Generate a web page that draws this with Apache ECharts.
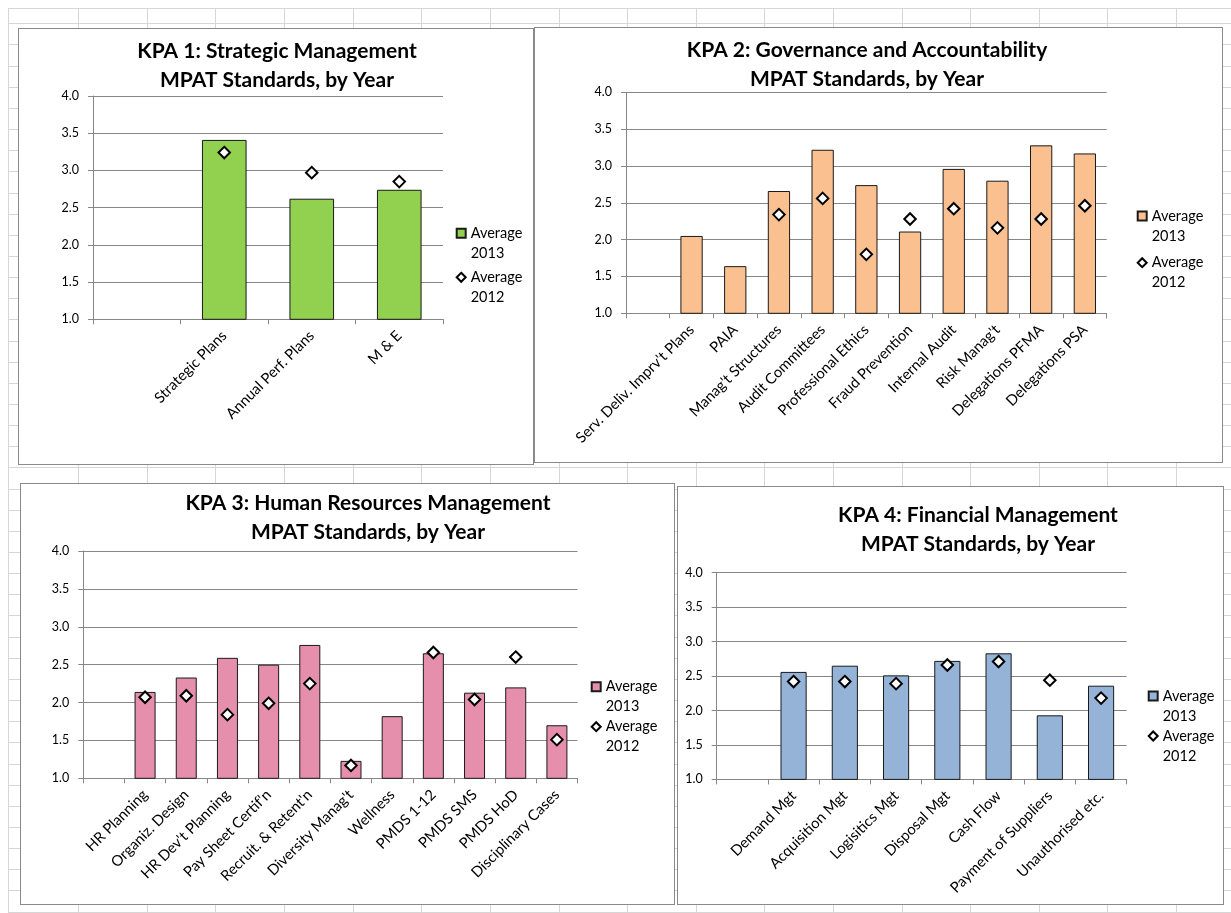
<!DOCTYPE html>
<html>
<head>
<meta charset="utf-8">
<script src="https://cdn.jsdelivr.net/npm/echarts@6/dist/echarts.min.js"></script>
<style>
html, body { margin: 0; padding: 0; background: #fff; }
#sheet { position: relative; width: 1231px; height: 913px; overflow: hidden; background: #fff; }
.hl { position: absolute; left: 8px; right: 0; height: 1px; background: #d6d6d6; }
.vl { position: absolute; top: 8px; bottom: 0; width: 1px; background: #d6d6d6; }
.panel { position: absolute; background: #fff; outline: 1px solid #8a8a8a; outline-offset: -1px; }
</style>
</head>
<body>
<div id="sheet">
  <div class="panel" id="p1" style="left:18px;top:28px;width:516px;height:437px"></div>
  <div class="panel" id="p2" style="left:534px;top:27px;width:689px;height:436px"></div>
  <div class="panel" id="p3" style="left:20px;top:483px;width:655px;height:422px"></div>
  <div class="panel" id="p4" style="left:677px;top:486px;width:547px;height:419px"></div>
</div>
<script>
// ---------------- DATA ----------------
const seriesNames = ['Average 2013', 'Average 2012'];
const yAxisMin = 1.0;
const yAxisMax = 4.0;
const yAxisStep = 0.5;

const kpa1Title = 'KPA 1: Strategic Management\nMPAT Standards, by Year';
const kpa1Categories = ['', 'Strategic Plans', 'Annual Perf. Plans', 'M & E'];
const kpa1Avg2013 = [null, 3.41, 2.62, 2.74];
const kpa1Avg2012 = [null, 3.24, 2.97, 2.85];

const kpa2Title = 'KPA 2: Governance and Accountability\nMPAT Standards, by Year';
const kpa2Categories = ['', "Serv. Deliv. Imprv't Plans", 'PAIA', "Manag't Structures", 'Audit Committees',
  'Professional Ethics', 'Fraud Prevention', 'Internal Audit', "Risk Manag't", 'Delegations PFMA', 'Delegations PSA'];
const kpa2Avg2013 = [null, 2.05, 1.64, 2.66, 3.22, 2.74, 2.11, 2.96, 2.80, 3.28, 3.17];
const kpa2Avg2012 = [null, null, null, 2.34, 2.56, 1.80, 2.28, 2.42, 2.16, 2.28, 2.46];

const kpa3Title = 'KPA 3: Human Resources Management\nMPAT Standards, by Year';
const kpa3Categories = ['', 'HR Planning', 'Organiz. Design', "HR Dev't Planning", "Pay Sheet Certif'n",
  "Recruit. & Retent'n", "Diversity Manag't", 'Wellness', 'PMDS 1-12', 'PMDS SMS', 'PMDS HoD', 'Disciplinary Cases'];
const kpa3Avg2013 = [null, 2.14, 2.33, 2.59, 2.50, 2.76, 1.23, 1.82, 2.65, 2.13, 2.20, 1.70];
const kpa3Avg2012 = [null, 2.07, 2.09, 1.84, 1.99, 2.25, 1.17, null, 2.66, 2.04, 2.60, 1.51];

const kpa4Title = 'KPA 4: Financial Management\nMPAT Standards, by Year';
const kpa4Categories = ['', 'Demand Mgt', 'Acquisition Mgt', 'Logisitics Mgt', 'Disposal Mgt', 'Cash Flow',
  'Payment of Suppliers', 'Unauthorised etc.'];
const kpa4Avg2013 = [null, 2.56, 2.65, 2.51, 2.72, 2.83, 1.93, 2.36];
const kpa4Avg2012 = [null, 2.42, 2.42, 2.39, 2.66, 2.71, 2.44, 2.18];

// ---------------- SPREADSHEET BACKGROUND ----------------
(function () {
  const sheet = document.getElementById('sheet');
  const first = sheet.firstChild;
  function add(cls, prop, v) {
    const d = document.createElement('div');
    d.className = cls; d.style[prop] = v + 'px';
    sheet.insertBefore(d, first);
  }
  add('hl', 'top', 8);
  for (let y = 23.3; y < 913; y += 21.15) add('hl', 'top', Math.round(y));
  add('vl', 'left', 8);
  for (let x = 78.3; x < 1231; x += 68.6) add('vl', 'left', Math.round(x));
})();

// ---------------- CHARTS ----------------
const FONT = 'Lato, "Open Sans", sans-serif';
const AXIS_GRAY = '#868686';
// legend icons: visible mark at the top of a taller box so it lines up with the first text line
const ICON_BOX = 'path://M0,0L9,0L9,9L0,9Z M0,29';
const ICON_DIAMOND = 'path://M4.5,0L9,4.5L4.5,9L0,4.5Z M0,29';

function buildOption(c) {
  const legendText = { fontFamily: FONT, fontSize: 14.5, color: '#000', lineHeight: 20 };
  const legendCommon = {
    left: c.legX, padding: 0, itemWidth: 9, itemHeight: 29, textStyle: legendText,
    selectedMode: false, formatter: n => n.replace(' ', '\n')
  };
  return {
    animation: false,
    title: {
      text: c.title, left: c.titleX, top: c.titleY, padding: 0, textAlign: 'center',
      textStyle: { fontFamily: FONT, fontWeight: 'bold', fontSize: 21, lineHeight: 29, color: '#000' }
    },
    grid: { left: c.grid[0], top: c.grid[1], width: c.grid[2], height: c.grid[3] },
    legend: [
      Object.assign({ data: [{ name: seriesNames[0], icon: ICON_BOX }], top: c.legY1 - 10 }, legendCommon),
      Object.assign({ data: [{ name: seriesNames[1], icon: ICON_DIAMOND }], top: c.legY2 - 10 }, legendCommon)
    ],
    xAxis: {
      type: 'category', data: c.categories,
      axisLine: { lineStyle: { color: AXIS_GRAY, width: 1 } },
      axisTick: { show: true, length: 5, lineStyle: { color: AXIS_GRAY } },
      axisLabel: { interval: 0, rotate: 45, margin: 14, fontFamily: FONT, fontSize: 14.8, color: '#000', hideOverlap: false },
      splitLine: { show: false }
    },
    yAxis: {
      type: 'value', min: yAxisMin, max: yAxisMax, interval: yAxisStep,
      axisLine: { show: true, lineStyle: { color: AXIS_GRAY, width: 1 } },
      axisTick: { show: true, length: 5, lineStyle: { color: AXIS_GRAY } },
      axisLabel: { margin: 14, fontFamily: FONT, fontSize: 12.5, color: '#000', formatter: v => v.toFixed(1) },
      splitLine: { show: true, lineStyle: { color: AXIS_GRAY, width: 1 } }
    },
    series: [
      {
        type: 'bar', name: seriesNames[0], data: c.v2013, barWidth: '51%',
        itemStyle: { color: c.color, borderColor: '#1a1a1a', borderWidth: 1 }
      },
      {
        type: 'scatter', name: seriesNames[1], data: c.v2012, symbol: 'diamond', symbolSize: 11.5,
        itemStyle: { color: '#fff', borderColor: '#000', borderWidth: 2, opacity: 1 }, z: 5
      }
    ]
  };
}

const panels = [
  { id: 'p1', title: kpa1Title, categories: kpa1Categories, v2013: kpa1Avg2013, v2012: kpa1Avg2012, color: '#92D050',
    titleX: 259, titleY: 9, grid: [75, 68, 350, 223.3], legX: 437.7, legY1: 205.3, legY2: 249.3 },
  { id: 'p2', title: kpa2Title, categories: kpa2Categories, v2013: kpa2Avg2013, v2012: kpa2Avg2012, color: '#FAC090',
    titleX: 333, titleY: 9, grid: [92, 65.3, 480.7, 221], legX: 602.7, legY1: 189, legY2: 235.7 },
  { id: 'p3', title: kpa3Title, categories: kpa3Categories, v2013: kpa3Avg2013, v2012: kpa3Avg2012, color: '#E68FAC',
    titleX: 348, titleY: 6, grid: [63.3, 68, 494.2, 227.3], legX: 570.7, legY1: 203.7, legY2: 243.7 },
  { id: 'p4', title: kpa4Title, categories: kpa4Categories, v2013: kpa4Avg2013, v2012: kpa4Avg2012, color: '#95B3D7',
    titleX: 301, titleY: 14.5, grid: [39.7, 86.7, 410, 206.7], legX: 470.7, legY1: 210, legY2: 250 }
];

panels.forEach(p => {
  const chart = echarts.init(document.getElementById(p.id), null, { renderer: 'canvas' });
  chart.setOption(buildOption(p));
});
</script>
</body>
</html>
